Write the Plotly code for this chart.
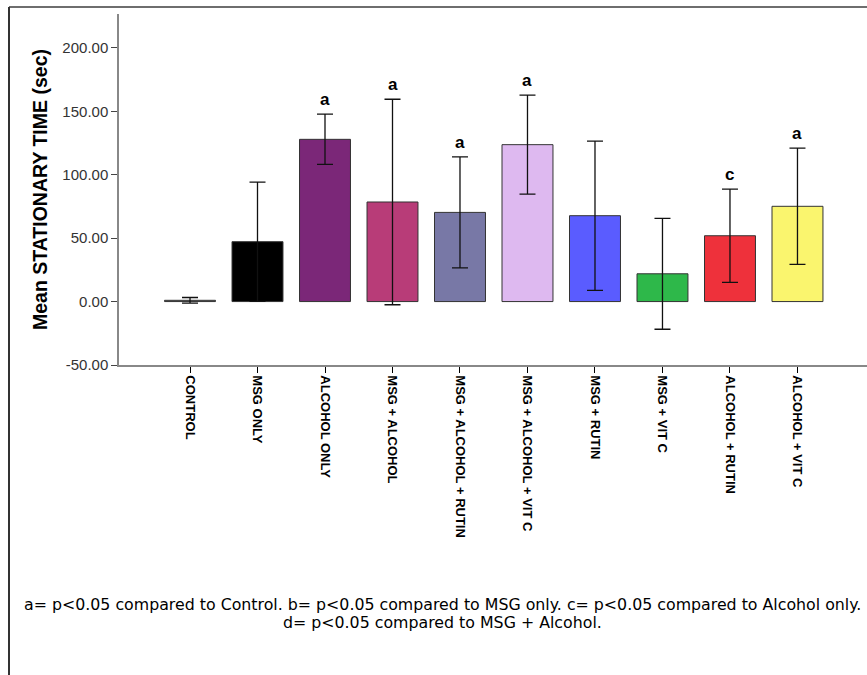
import plotly.graph_objects as go

categories = ["CONTROL", "MSG ONLY", "ALCOHOL ONLY", "MSG + ALCOHOL",
              "MSG + ALCOHOL + RUTIN", "MSG + ALCOHOL + VIT C", "MSG + RUTIN",
              "MSG + VIT C", "ALCOHOL + RUTIN", "ALCOHOL + VIT C"]
means = [1.0, 47.2, 127.9, 78.5, 70.3, 123.7, 67.7, 21.9, 51.9, 75.1]
errors = [2.2, 47.0, 19.8, 81.0, 43.8, 39.0, 58.8, 43.7, 36.8, 45.8]
letters = ["", "", "a", "a", "a", "a", "", "", "c", "a"]
colors = ["#808080", "#000000", "#7B2778", "#B83C78", "#7878A6", "#DEB9F0",
          "#5A5CFF", "#2EB84A", "#EE313B", "#FAF56E"]
y_ticks = [-50, 0, 50, 100, 150, 200]
y_tick_labels = ["-50.00", "0.00", "50.00", "100.00", "150.00", "200.00"]
footnote_lines = ["a= p<0.05 compared to Control. b= p<0.05 compared to MSG only. c= p<0.05 compared to Alcohol only.",
                  "d= p<0.05 compared to MSG + Alcohol."]

W, H = 867, 675
L, R, T, B = 119, 867, 14, 365


def px(x):
    return (x - L) / (R - L)


def py(y):
    return (B - y) / (B - T)


fig = go.Figure()
fig.add_trace(go.Bar(
    x=categories, y=means, width=0.755,
    marker=dict(color=colors, line=dict(color="#333333", width=1)),
    error_y=dict(type="data", array=errors, visible=True, color="#111111",
                 thickness=1.3, width=8),
    showlegend=False, hoverinfo="x+y",
))

annotations = []
for c, m, e, l in zip(categories, means, errors, letters):
    if l:
        annotations.append(dict(x=c, y=m + e, xref="x", yref="y", text="<b>%s</b>" % l,
                                showarrow=False, yanchor="bottom", yshift=3,
                                font=dict(family="Liberation Sans, Arial", size=17, color="#000000")))

annotations.append(dict(x=px(40), y=py(190), xref="paper", yref="paper",
                        text="<b>Mean STATIONARY TIME (sec)</b>", textangle=-90,
                        showarrow=False, xanchor="center", yanchor="middle",
                        font=dict(family="Liberation Sans, Arial", size=19.5, color="#000000")))

for i, line in enumerate(footnote_lines):
    annotations.append(dict(x=px(442), y=py(604 + 18 * i), xref="paper", yref="paper",
                            text=line, showarrow=False, xanchor="center", yanchor="middle",
                            font=dict(family="DejaVu Sans", size=15.8, color="#000000")))

shapes = [
    dict(type="line", xref="paper", yref="paper", x0=px(9), x1=px(870), y0=py(7), y1=py(7),
         line=dict(color="#6e6e6e", width=2)),
    dict(type="line", xref="paper", yref="paper", x0=px(9), x1=px(9), y0=py(7), y1=py(680),
         line=dict(color="#333333", width=2)),
]

fig.update_layout(
    width=W, height=H,
    margin=dict(l=L, r=W - R, t=T, b=H - B, pad=0),
    paper_bgcolor="white", plot_bgcolor="white",
    bargap=0.2,
    annotations=annotations,
    shapes=shapes,
    xaxis=dict(
        type="category", range=[-1.052, 10.03],
        showline=True, linecolor="#888888", linewidth=1.5,
        ticks="outside", ticklen=6, tickcolor="#000000", tickwidth=1.3,
        tickangle=90, showgrid=False, zeroline=False,
        tickfont=dict(family="Liberation Sans, Arial", size=13, color="#000000", weight="bold"),
    ),
    yaxis=dict(
        range=[-50, 226.7], tickvals=y_ticks, ticktext=y_tick_labels,
        showline=True, linecolor="#888888", linewidth=1.5,
        ticks="outside", ticklen=6, tickcolor="#444444", tickwidth=1.3,
        showgrid=False, zeroline=False,
        tickfont=dict(family="Liberation Sans, Arial", size=15, color="#333333"),
    ),
)

fig.write_html("out.html", config={"displayModeBar": False},
               post_script="document.body.style.margin='0px';document.body.style.overflow='hidden';")
